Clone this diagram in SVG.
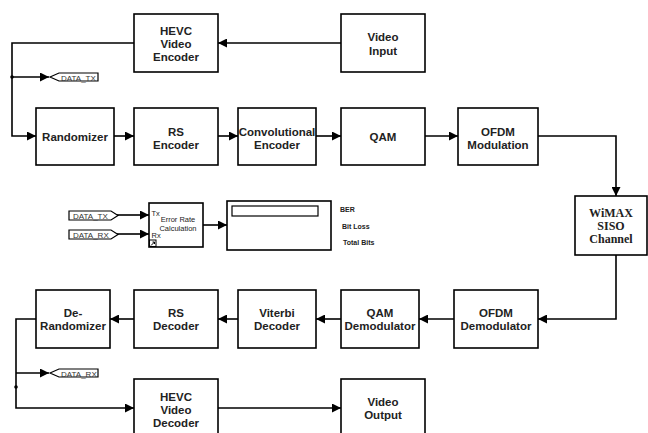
<svg xmlns="http://www.w3.org/2000/svg" width="648" height="433" viewBox="0 0 648 433">
<defs>
<marker id="ah" viewBox="0 0 10 10" refX="10" refY="5" markerWidth="9" markerHeight="9" markerUnits="userSpaceOnUse" orient="auto">
<path d="M0,0 L10,5 L0,10 Z" fill="#000"/>
</marker>
<style>
.box{fill:#fff;stroke:#000;stroke-width:1.6}
.t{font-family:"Liberation Sans",Arial,sans-serif;font-weight:bold;font-size:11.5px;text-anchor:middle;fill:#222}
.ts{font-family:"Liberation Serif","Times New Roman",serif;font-weight:bold;font-size:12px;text-anchor:middle;fill:#222}
.w{fill:none;stroke:#000;stroke-width:1.6}
.tag{fill:#fff;stroke:#000;stroke-width:1.2}
.tagt{font-family:"Liberation Sans",Arial,sans-serif;font-size:8px;fill:#333}
.sm{font-family:"Liberation Sans",Arial,sans-serif;font-size:7.5px;fill:#222}
.lbl{font-family:"Liberation Sans",Arial,sans-serif;font-weight:bold;font-size:7px;fill:#222}
</style>
</defs>
<rect width="648" height="433" fill="#fff"/>
<g id="connectors">
<path class="w" d="M341,43 H218" marker-end="url(#ah)"/>
<path class="w" d="M134,43 H12 V136 H36" marker-end="url(#ah)"/>
<path class="w" d="M12,77 H49" marker-end="url(#ah)"/>
<circle cx="12" cy="77" r="1.8" fill="#000"/>
<path class="w" d="M114,136 H134" marker-end="url(#ah)"/>
<path class="w" d="M218,136 H238" marker-end="url(#ah)"/>
<path class="w" d="M316,136 H341" marker-end="url(#ah)"/>
<path class="w" d="M425,136 H458" marker-end="url(#ah)"/>
<path class="w" d="M538,136 H616 V196" marker-end="url(#ah)"/>
<path class="w" d="M616,255 V319 H538" marker-end="url(#ah)"/>
<path class="w" d="M454,319 H419" marker-end="url(#ah)"/>
<path class="w" d="M341,319 H316" marker-end="url(#ah)"/>
<path class="w" d="M238,319 H218" marker-end="url(#ah)"/>
<path class="w" d="M134,319 H110" marker-end="url(#ah)"/>
<path class="w" d="M36,319 H16 V408 H134" marker-end="url(#ah)"/>
<path class="w" d="M16,373 H49" marker-end="url(#ah)"/>
<circle cx="16" cy="387" r="1.8" fill="#000"/>
<path class="w" d="M218,408 H341" marker-end="url(#ah)"/>
<path class="w" d="M117,215 H149" marker-end="url(#ah)"/>
<path class="w" d="M117,234 H149" marker-end="url(#ah)"/>
<path class="w" d="M203,225 H227" marker-end="url(#ah)"/>
</g>
<g id="video-input"><rect class="box" x="341" y="14" width="84" height="58"/><text class="t" x="383" y="41">Video</text><text class="t" x="383" y="55">Input</text></g>
<g id="hevc-encoder"><rect class="box" x="134" y="14" width="84" height="58"/><text class="t" x="176" y="35">HEVC</text><text class="t" x="176" y="48">Video</text><text class="t" x="176" y="61">Encoder</text></g>
<g id="data-tx-goto"><polygon class="tag" points="50,77 59,73 98,73 98,81 59,81"/><text class="tagt" x="61" y="80.5">DATA_TX</text></g>
<g id="randomizer"><rect class="box" x="36" y="108" width="78" height="57"/><text class="t" x="75" y="141">Randomizer</text></g>
<g id="rs-encoder"><rect class="box" x="134" y="108" width="84" height="57"/><text class="t" x="176" y="136">RS</text><text class="t" x="176" y="149">Encoder</text></g>
<g id="conv-encoder"><rect class="box" x="238" y="108" width="78" height="57"/><text class="t" x="277" y="136">Convolutional</text><text class="t" x="277" y="149">Encoder</text></g>
<g id="qam"><rect class="box" x="341" y="108" width="84" height="57"/><text class="t" x="383" y="141">QAM</text></g>
<g id="ofdm-mod"><rect class="box" x="458" y="108" width="80" height="57"/><text class="t" x="498" y="136">OFDM</text><text class="t" x="498" y="149">Modulation</text></g>
<g id="wimax"><rect class="box" x="575" y="196" width="72" height="59"/><text class="ts" x="611" y="217">WiMAX</text><text class="ts" x="611" y="230">SISO</text><text class="ts" x="611" y="243">Channel</text></g>
<g id="data-tx-from"><polygon class="tag" points="69,211 111,211 118,215.5 111,220 69,220"/><text class="tagt" x="73" y="218.5">DATA_TX</text></g>
<g id="data-rx-from"><polygon class="tag" points="69,230 111,230 118,234.5 111,239 69,239"/><text class="tagt" x="73" y="237.5">DATA_RX</text></g>
<g id="error-rate"><rect class="box" x="149" y="203" width="54" height="44" stroke-width="1.3"/><text class="sm" x="151.5" y="216">Tx</text><text class="sm" x="151.5" y="238">Rx</text><text class="sm" x="178" y="222" text-anchor="middle">Error Rate</text><text class="sm" x="178" y="231" text-anchor="middle">Calculation</text><rect x="149.5" y="240" width="6.5" height="6.5" fill="#fff" stroke="#000" stroke-width="1"/><path d="M151,245.5 L154.5,242 M152.5,242 H154.5 V244" stroke="#000" stroke-width="1" fill="none"/></g>
<g id="display"><rect class="box" x="227" y="201" width="104" height="49" stroke-width="1.3"/><rect x="232" y="206" width="86" height="10" fill="#fff" stroke="#000" stroke-width="1.2"/><text class="lbl" x="340" y="212">BER</text><text class="lbl" x="342" y="229">Bit Loss</text><text class="lbl" x="343" y="245">Total Bits</text></g>
<g id="ofdm-demod"><rect class="box" x="454" y="290" width="84" height="58"/><text class="t" x="496" y="317">OFDM</text><text class="t" x="496" y="330">Demodulator</text></g>
<g id="qam-demod"><rect class="box" x="341" y="290" width="78" height="58"/><text class="t" x="380" y="317">QAM</text><text class="t" x="380" y="330">Demodulator</text></g>
<g id="viterbi"><rect class="box" x="238" y="290" width="78" height="58"/><text class="t" x="277" y="317">Viterbi</text><text class="t" x="277" y="330">Decoder</text></g>
<g id="rs-decoder"><rect class="box" x="134" y="290" width="84" height="58"/><text class="t" x="176" y="317">RS</text><text class="t" x="176" y="330">Decoder</text></g>
<g id="derandomizer"><rect class="box" x="36" y="290" width="74" height="58"/><text class="t" x="73" y="317">De-</text><text class="t" x="73" y="330">Randomizer</text></g>
<g id="data-rx-goto"><polygon class="tag" points="50,373 59,369 98,369 98,377 59,377"/><text class="tagt" x="61" y="376.5">DATA_RX</text></g>
<g id="hevc-decoder"><rect class="box" x="134" y="379" width="84" height="60"/><text class="t" x="176" y="401">HEVC</text><text class="t" x="176" y="414">Video</text><text class="t" x="176" y="427">Decoder</text></g>
<g id="video-output"><rect class="box" x="341" y="379" width="84" height="60"/><text class="t" x="383" y="406">Video</text><text class="t" x="383" y="419">Output</text></g>
</svg>
